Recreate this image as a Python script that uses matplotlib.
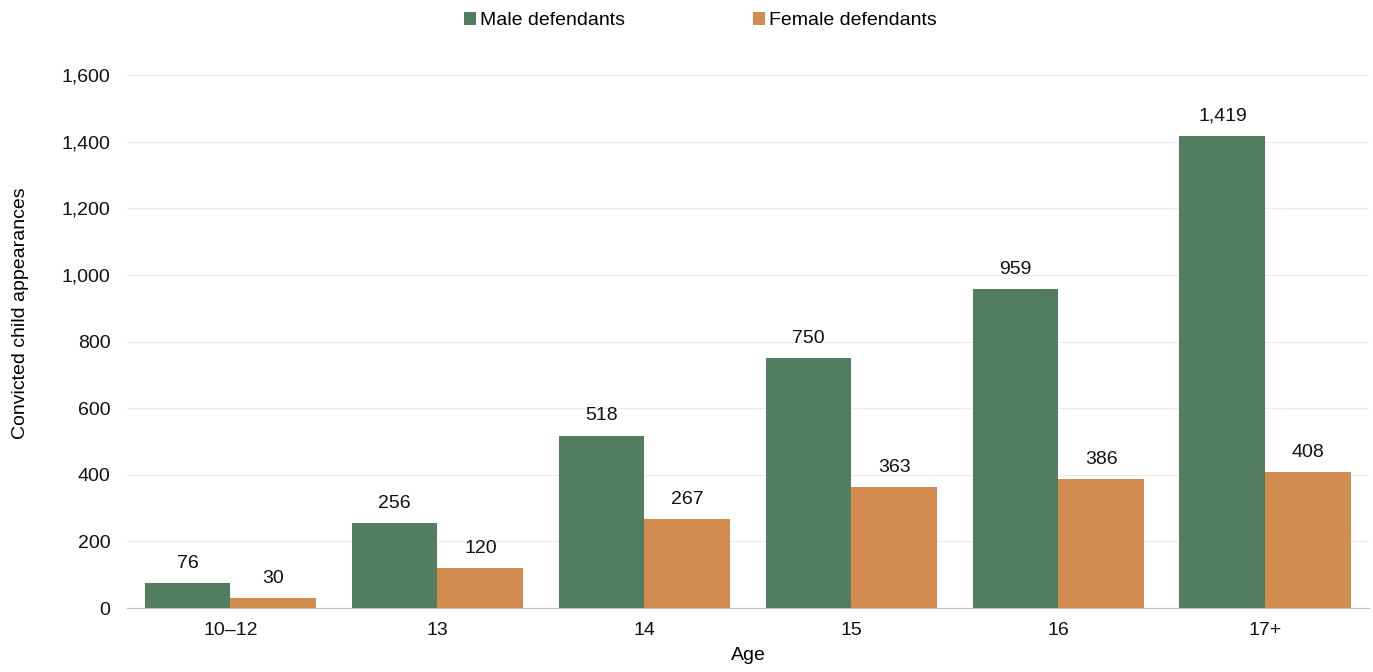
import matplotlib.pyplot as plt
import numpy as np

plt.rcParams['font.family'] = ['Liberation Sans', 'DejaVu Sans']

ages = ['10–12', '13', '14', '15', '16', '17+']
male = [76, 256, 518, 750, 959, 1419]
female = [30, 120, 267, 363, 386, 408]

green = '#527E5F'
orange = '#D38C4F'
fs = 14

fig = plt.figure(figsize=(13.73, 6.72), dpi=100)
ax = fig.add_axes([0.0925, 0.0952, 0.9045, 0.7928])

x = np.arange(len(ages))
w = 0.415
b1 = ax.bar(x - w / 2, male, w, color=green, label='Male defendants')
b2 = ax.bar(x + w / 2, female, w, color=orange, label='Female defendants')

for bars in (b1, b2):
    for bar in bars:
        h = bar.get_height()
        ax.annotate(f'{h:,.0f}', (bar.get_x() + bar.get_width() / 2, h),
                    xytext=(0, 8), textcoords='offset points',
                    ha='center', va='bottom', fontsize=fs, color='#111111')

ax.set_xlim(-0.5, len(ages) - 0.5)
ax.set_ylim(0, 1600)
ax.set_yticks(range(0, 1601, 200))
ax.yaxis.set_major_formatter(plt.FuncFormatter(lambda v, p: f'{v:,.0f}'))
ax.set_xticks(x)
ax.set_xticklabels(ages)
ax.tick_params(axis='both', length=0, labelsize=fs, colors='#111111')
ax.tick_params(axis='x', pad=10)
ax.tick_params(axis='y', pad=12)

ax.grid(axis='y', color='#EBEBEB', linewidth=0.8)
ax.set_axisbelow(True)
for s in ['top', 'right', 'left']:
    ax.spines[s].set_visible(False)
ax.spines['bottom'].set_color('#BFBFBF')

ax.set_xlabel('Age', fontsize=fs, labelpad=6)
ax.set_ylabel('Convicted child appearances', fontsize=fs, va='center')
ax.yaxis.set_label_coords(-0.086, 0.553)

# legend sits centred on the figure rather than the plot area
fig.legend(loc='center', bbox_to_anchor=(0.51, 0.969), ncol=2, frameon=False,
           fontsize=fs, handlelength=0.6, handleheight=0.6, handletextpad=0.2,
           columnspacing=6.6)

fig.savefig('out.png', dpi=100)
